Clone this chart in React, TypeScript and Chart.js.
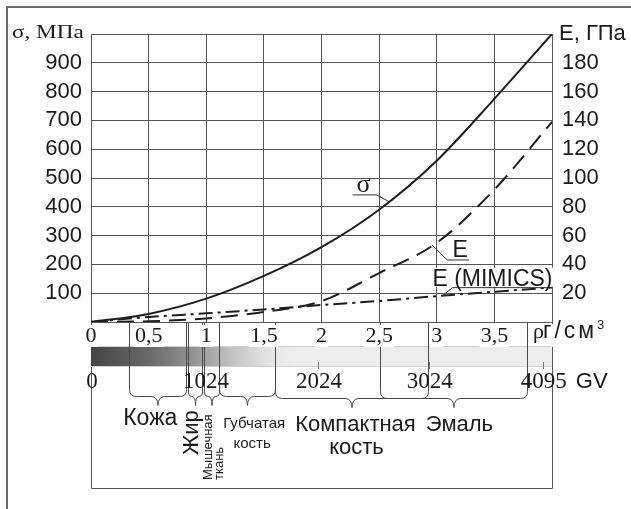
import React, { useEffect, useRef } from 'react';
import { Chart, registerables } from 'chart.js';

Chart.register(...registerables);

// ---------- data ----------
const densityTicks = [0, 0.5, 1, 1.5, 2, 2.5, 3, 3.5, 4];
const rho = [0, 0.5, 1, 1.5, 2, 2.5, 3, 3.5, 4];
const sigmaMPa = [0, 28, 81, 160, 260, 390, 560, 775, 1000];
const eGPa = [0, 0.5, 2.5, 7, 14.5, 34, 55, 92, 139];
const eMimicsGPa = [0, 3.5, 6, 8.7, 11.8, 14.6, 18, 21, 24];

const gvLabels = ['0', '1024', '2024', '3024', '4095'];
const gvRho = [0, 0.99, 1.97, 2.93, 3.92];

const tissueNames = ['Кожа', 'Жир', 'Мышечная ткань', 'Губчатая кость', 'Компактная кость', 'Эмаль'];
const tissueFrom = [0.33, 0.84, 0.98, 1.11, 1.6, 2.51];
const tissueTo = [0.82, 0.96, 1.11, 1.6, 2.92, 3.78];

// ---------- styles ----------
const SANS = '"Liberation Sans", Arial, Helvetica, sans-serif';
const SERIF = '"Liberation Serif", "Times New Roman", serif';
const INK = '#1a1a1a';
const GRID = '#555555';

const pts = (ys: number[]) => rho.map((r, i) => ({ x: r, y: ys[i] }));

function brace(ctx: CanvasRenderingContext2D, x1: number, x2: number, yTop: number, yb: number, tip: number) {
  const w = x2 - x1;
  const r = Math.min(7, w / 4);
  const m = (x1 + x2) / 2;
  ctx.beginPath();
  ctx.moveTo(x1, yTop);
  ctx.lineTo(x1, yb - r);
  ctx.quadraticCurveTo(x1, yb, x1 + r, yb);
  ctx.lineTo(m - r, yb);
  ctx.quadraticCurveTo(m, yb, m, yb + tip);
  ctx.quadraticCurveTo(m, yb, m + r, yb);
  ctx.lineTo(x2 - r, yb);
  ctx.quadraticCurveTo(x2, yb, x2, yb - r);
  ctx.lineTo(x2, yTop);
  ctx.stroke();
}

const figurePlugin = {
  id: 'figure',
  beforeDraw(chart: any) {
    const { ctx, chartArea: a } = chart;
    const x = chart.scales.x;
    const boxBottom = 488.5;
    ctx.save();
    // outer frame
    ctx.strokeStyle = '#6a6a6a';
    ctx.lineWidth = 2;
    ctx.strokeRect(7, 7, chart.width + 20, chart.height + 20);
    // lower box
    ctx.strokeStyle = GRID;
    ctx.lineWidth = 1;
    ctx.beginPath();
    ctx.moveTo(a.left + 0.5, a.bottom);
    ctx.lineTo(a.left + 0.5, boxBottom);
    ctx.lineTo(a.right + 0.5, boxBottom);
    ctx.lineTo(a.right + 0.5, a.bottom);
    ctx.stroke();
    // grey-value bar
    const barTop = 346;
    const barH = 21;
    const g = ctx.createLinearGradient(x.getPixelForValue(0), 0, x.getPixelForValue(1.75), 0);
    g.addColorStop(0, '#444444');
    g.addColorStop(0.29, '#6a6a6a');
    g.addColorStop(0.54, '#9a9a9a');
    g.addColorStop(0.71, '#c6c6c6');
    g.addColorStop(0.89, '#e6e6e6');
    g.addColorStop(1, '#eeeeee');
    ctx.fillStyle = g;
    ctx.fillRect(a.left, barTop, a.right - a.left, barH);
    ctx.strokeStyle = '#d2d2d2';
    ctx.beginPath();
    ctx.moveTo(a.left, barTop + 0.5);
    ctx.lineTo(a.right, barTop + 0.5);
    ctx.moveTo(a.left, barTop + barH - 0.5);
    ctx.lineTo(a.right, barTop + barH - 0.5);
    ctx.stroke();
    // GV ticks
    ctx.strokeStyle = '#777';
    ctx.beginPath();
    for (let i = 2; i < gvRho.length; i++) {
      const px = Math.round(x.getPixelForValue(gvRho[i])) + 0.5;
      ctx.moveTo(px, barTop + barH - 5);
      ctx.lineTo(px, barTop + barH + 2);
    }
    ctx.stroke();
    // connectors and braces
    ctx.strokeStyle = '#4a4a4a';
    ctx.lineWidth = 1;
    for (let i = 0; i < tissueNames.length; i++) {
      const x1 = Math.round(x.getPixelForValue(tissueFrom[i])) + 0.5;
      const x2 = Math.round(x.getPixelForValue(tissueTo[i])) + 0.5;
      brace(ctx, x1, x2, a.bottom, i >= 4 ? 398.5 : 396.5, 9);
    }
    // GV labels
    ctx.fillStyle = INK;
    ctx.textBaseline = 'alphabetic';
    ctx.textAlign = 'center';
    ctx.font = `23px ${SERIF}`;
    for (let i = 0; i < gvLabels.length; i++) {
      const px = x.getPixelForValue(gvRho[i]) + 1;
      ctx.fillText(gvLabels[i], px, 388);
      if (i === gvLabels.length - 1) {
        const w = ctx.measureText(gvLabels[i]).width;
        ctx.font = `22px ${SANS}`;
        ctx.textAlign = 'left';
        ctx.fillText('GV', px + w / 2 + 9, 388);
      }
    }
    ctx.restore();
  },
  afterDatasetsDraw(chart: any) {
    const { ctx } = chart;
    const { x, y, y2 } = chart.scales;
    ctx.save();
    ctx.strokeStyle = '#333';
    ctx.lineWidth = 1;
    ctx.fillStyle = INK;
    ctx.textBaseline = 'alphabetic';
    // sigma callout
    {
      const ax = x.getPixelForValue(2.59);
      const ay = y.getPixelForValue(417);
      ctx.beginPath();
      ctx.moveTo(ax, ay);
      ctx.lineTo(ax - 13, ay - 7);
      ctx.lineTo(ax - 37, ay - 7);
      ctx.stroke();
      ctx.font = `26px ${SERIF}`;
      ctx.textAlign = 'center';
      ctx.fillText('σ', ax - 26, ay - 10);
    }
    // E callout
    {
      const ax = x.getPixelForValue(2.96);
      const ay = y2.getPixelForValue(53.5);
      ctx.beginPath();
      ctx.moveTo(ax, ay);
      ctx.lineTo(ax + 15, ay + 15);
      ctx.lineTo(ax + 37, ay + 15);
      ctx.stroke();
      ctx.font = `23px ${SANS}`;
      ctx.textAlign = 'center';
      ctx.fillText('E', ax + 28, ay + 12);
    }
    // E (MIMICS) callout
    {
      const ax = x.getPixelForValue(3.05);
      const ay = y2.getPixelForValue(18.3);
      ctx.font = `23px ${SANS}`;
      const label = 'E (MIMICS)';
      const w = ctx.measureText(label).width;
      const right = ax + 110;
      ctx.fillStyle = '#fff';
      ctx.fillRect(right - w - 2, ay - 28, w + 3, 19);
      ctx.beginPath();
      ctx.moveTo(ax, ay);
      ctx.lineTo(ax + 10, ay - 8);
      ctx.lineTo(right, ay - 8);
      ctx.stroke();
      ctx.fillStyle = INK;
      ctx.textAlign = 'right';
      ctx.fillText(label, right, ay - 10);
    }
    ctx.restore();
  },
  afterDraw(chart: any) {
    const { ctx, chartArea: a } = chart;
    const x = chart.scales.x;
    ctx.save();
    ctx.fillStyle = INK;
    ctx.textBaseline = 'alphabetic';
    // axis titles
    ctx.save();
    ctx.font = `19px ${SERIF}`;
    ctx.translate(12, 38);
    ctx.scale(1.22, 1);
    ctx.textAlign = 'left';
    ctx.fillText('σ, МПа', 0, 0);
    ctx.restore();
    ctx.font = `22px ${SANS}`;
    ctx.textAlign = 'left';
    ctx.fillText('E, ГПа', 559, 40);
    // density unit
    ctx.fillStyle = '#fff';
    ctx.fillRect(a.right - 21, a.bottom + 2, 90, 22);
    ctx.fillStyle = INK;
    ctx.font = `22px ${SERIF}`;
    ctx.fillText('ρ', a.right - 19, 338);
    ctx.save();
    ctx.font = `23px ${SANS}`;
    (ctx as any).letterSpacing = '3px';
    ctx.fillText('г/см', a.right - 9, 338);
    const wu = ctx.measureText('г/см').width;
    ctx.restore();
    ctx.font = `13px ${SANS}`;
    ctx.fillText('3', a.right - 9 + wu, 329);
    // tissue labels
    const mid = (i: number) => (x.getPixelForValue(tissueFrom[i]) + x.getPixelForValue(tissueTo[i])) / 2;
    const [skin, fat, muscle, spongy, compact, enamel] = tissueNames.map((n) => n.split(' '));
    ctx.textAlign = 'center';
    ctx.font = `23px ${SANS}`;
    ctx.fillText(skin[0], mid(0) - 7, 425);
    // fat (rotated)
    ctx.save();
    ctx.translate(mid(1) + 3, 455);
    ctx.rotate(-Math.PI / 2);
    ctx.textAlign = 'left';
    ctx.font = `22px ${SANS}`;
    ctx.fillText(fat[0], 0, 0);
    ctx.restore();
    // muscle (rotated, two lines)
    ctx.save();
    ctx.translate(mid(2) + 1, 480);
    ctx.rotate(-Math.PI / 2);
    ctx.textAlign = 'left';
    ctx.font = `13px ${SANS}`;
    ctx.fillText(muscle[0], 0, 0);
    ctx.fillText(muscle[1], 0, 11);
    ctx.restore();
    // spongy bone
    ctx.font = `15px ${SANS}`;
    ctx.fillText(spongy[0], mid(3) + 7, 428);
    ctx.fillText(spongy[1], mid(3) + 5, 448);
    // compact bone
    ctx.font = `22px ${SANS}`;
    ctx.fillText(compact[0], mid(4) + 4, 431);
    ctx.fillText(compact[1], mid(4) + 5, 454);
    // enamel
    ctx.fillText(enamel[0], mid(5) + 6, 431);
    ctx.restore();
  },
};

export default function App() {
  const ref = useRef<HTMLCanvasElement>(null);
  useEffect(() => {
    const canvas = ref.current!;
    const chart = new Chart(canvas, {
      type: 'line',
      data: {
        datasets: [
          {
            label: 'σ',
            data: pts(sigmaMPa),
            yAxisID: 'y',
            borderColor: '#1e1e1e',
            borderWidth: 2,
            pointRadius: 0,
            cubicInterpolationMode: 'monotone',
          },
          {
            label: 'E',
            data: pts(eGPa),
            yAxisID: 'y2',
            borderColor: '#1e1e1e',
            borderWidth: 2,
            borderDash: [17, 9],
            pointRadius: 0,
            cubicInterpolationMode: 'monotone',
          },
          {
            label: 'E (MIMICS)',
            data: pts(eMimicsGPa),
            yAxisID: 'y2',
            borderColor: '#1e1e1e',
            borderWidth: 2,
            borderDash: [14, 5, 3, 5],
            pointRadius: 0,
            cubicInterpolationMode: 'monotone',
          },
        ],
      },
      options: {
        responsive: true,
        maintainAspectRatio: false,
        animation: false,
        layout: { padding: { top: 34, left: 0, right: 0, bottom: 0 } },
        plugins: { legend: { display: false }, tooltip: { enabled: false } },
        scales: {
          x: {
            type: 'linear',
            min: 0,
            max: 4,
            afterBuildTicks: (s: any) => {
              s.ticks = densityTicks.map((v) => ({ value: v }));
            },
            afterFit: (s: any) => {
              s.height = 187;
            },
            grid: { color: GRID, lineWidth: 1, drawTicks: false },
            border: { color: GRID, width: 1 },
            ticks: {
              color: INK,
              font: { family: SERIF, size: 22, lineHeight: 1 },
              padding: 3,
              maxRotation: 0,
              autoSkip: false,
              showLabelBackdrop: true,
              backdropColor: '#ffffff',
              backdropPadding: { top: 0, bottom: 0, left: 1, right: 1 },
              callback: (v: any) => (v === 4 ? '' : String(v).replace('.', ',')),
            },
          },
          y: {
            position: 'left',
            min: 0,
            max: 1000,
            afterFit: (s: any) => {
              s.width = 91;
            },
            grid: { color: GRID, lineWidth: 1, drawTicks: false },
            border: { color: GRID, width: 1 },
            ticks: {
              stepSize: 100,
              autoSkip: false,
              color: INK,
              font: { family: SANS, size: 22 },
              padding: 9,
              callback: (v: any) => (v === 0 || v === 1000 ? '' : String(v)),
            },
          },
          y2: {
            position: 'right',
            min: 0,
            max: 200,
            afterFit: (s: any) => {
              s.width = 79;
            },
            grid: { display: false, drawTicks: false },
            border: { color: GRID, width: 1 },
            ticks: {
              stepSize: 20,
              autoSkip: false,
              color: INK,
              font: { family: SANS, size: 22 },
              padding: 10,
              callback: (v: any) => (v === 0 || v === 200 ? '' : String(v)),
            },
          },
        },
      },
      plugins: [figurePlugin],
    } as any);
    return () => chart.destroy();
  }, []);
  return (
    <div style={{ position: 'fixed', left: 0, top: 0, width: 631, height: 509, background: '#fff' }}>
      <canvas ref={ref} />
    </div>
  );
}
